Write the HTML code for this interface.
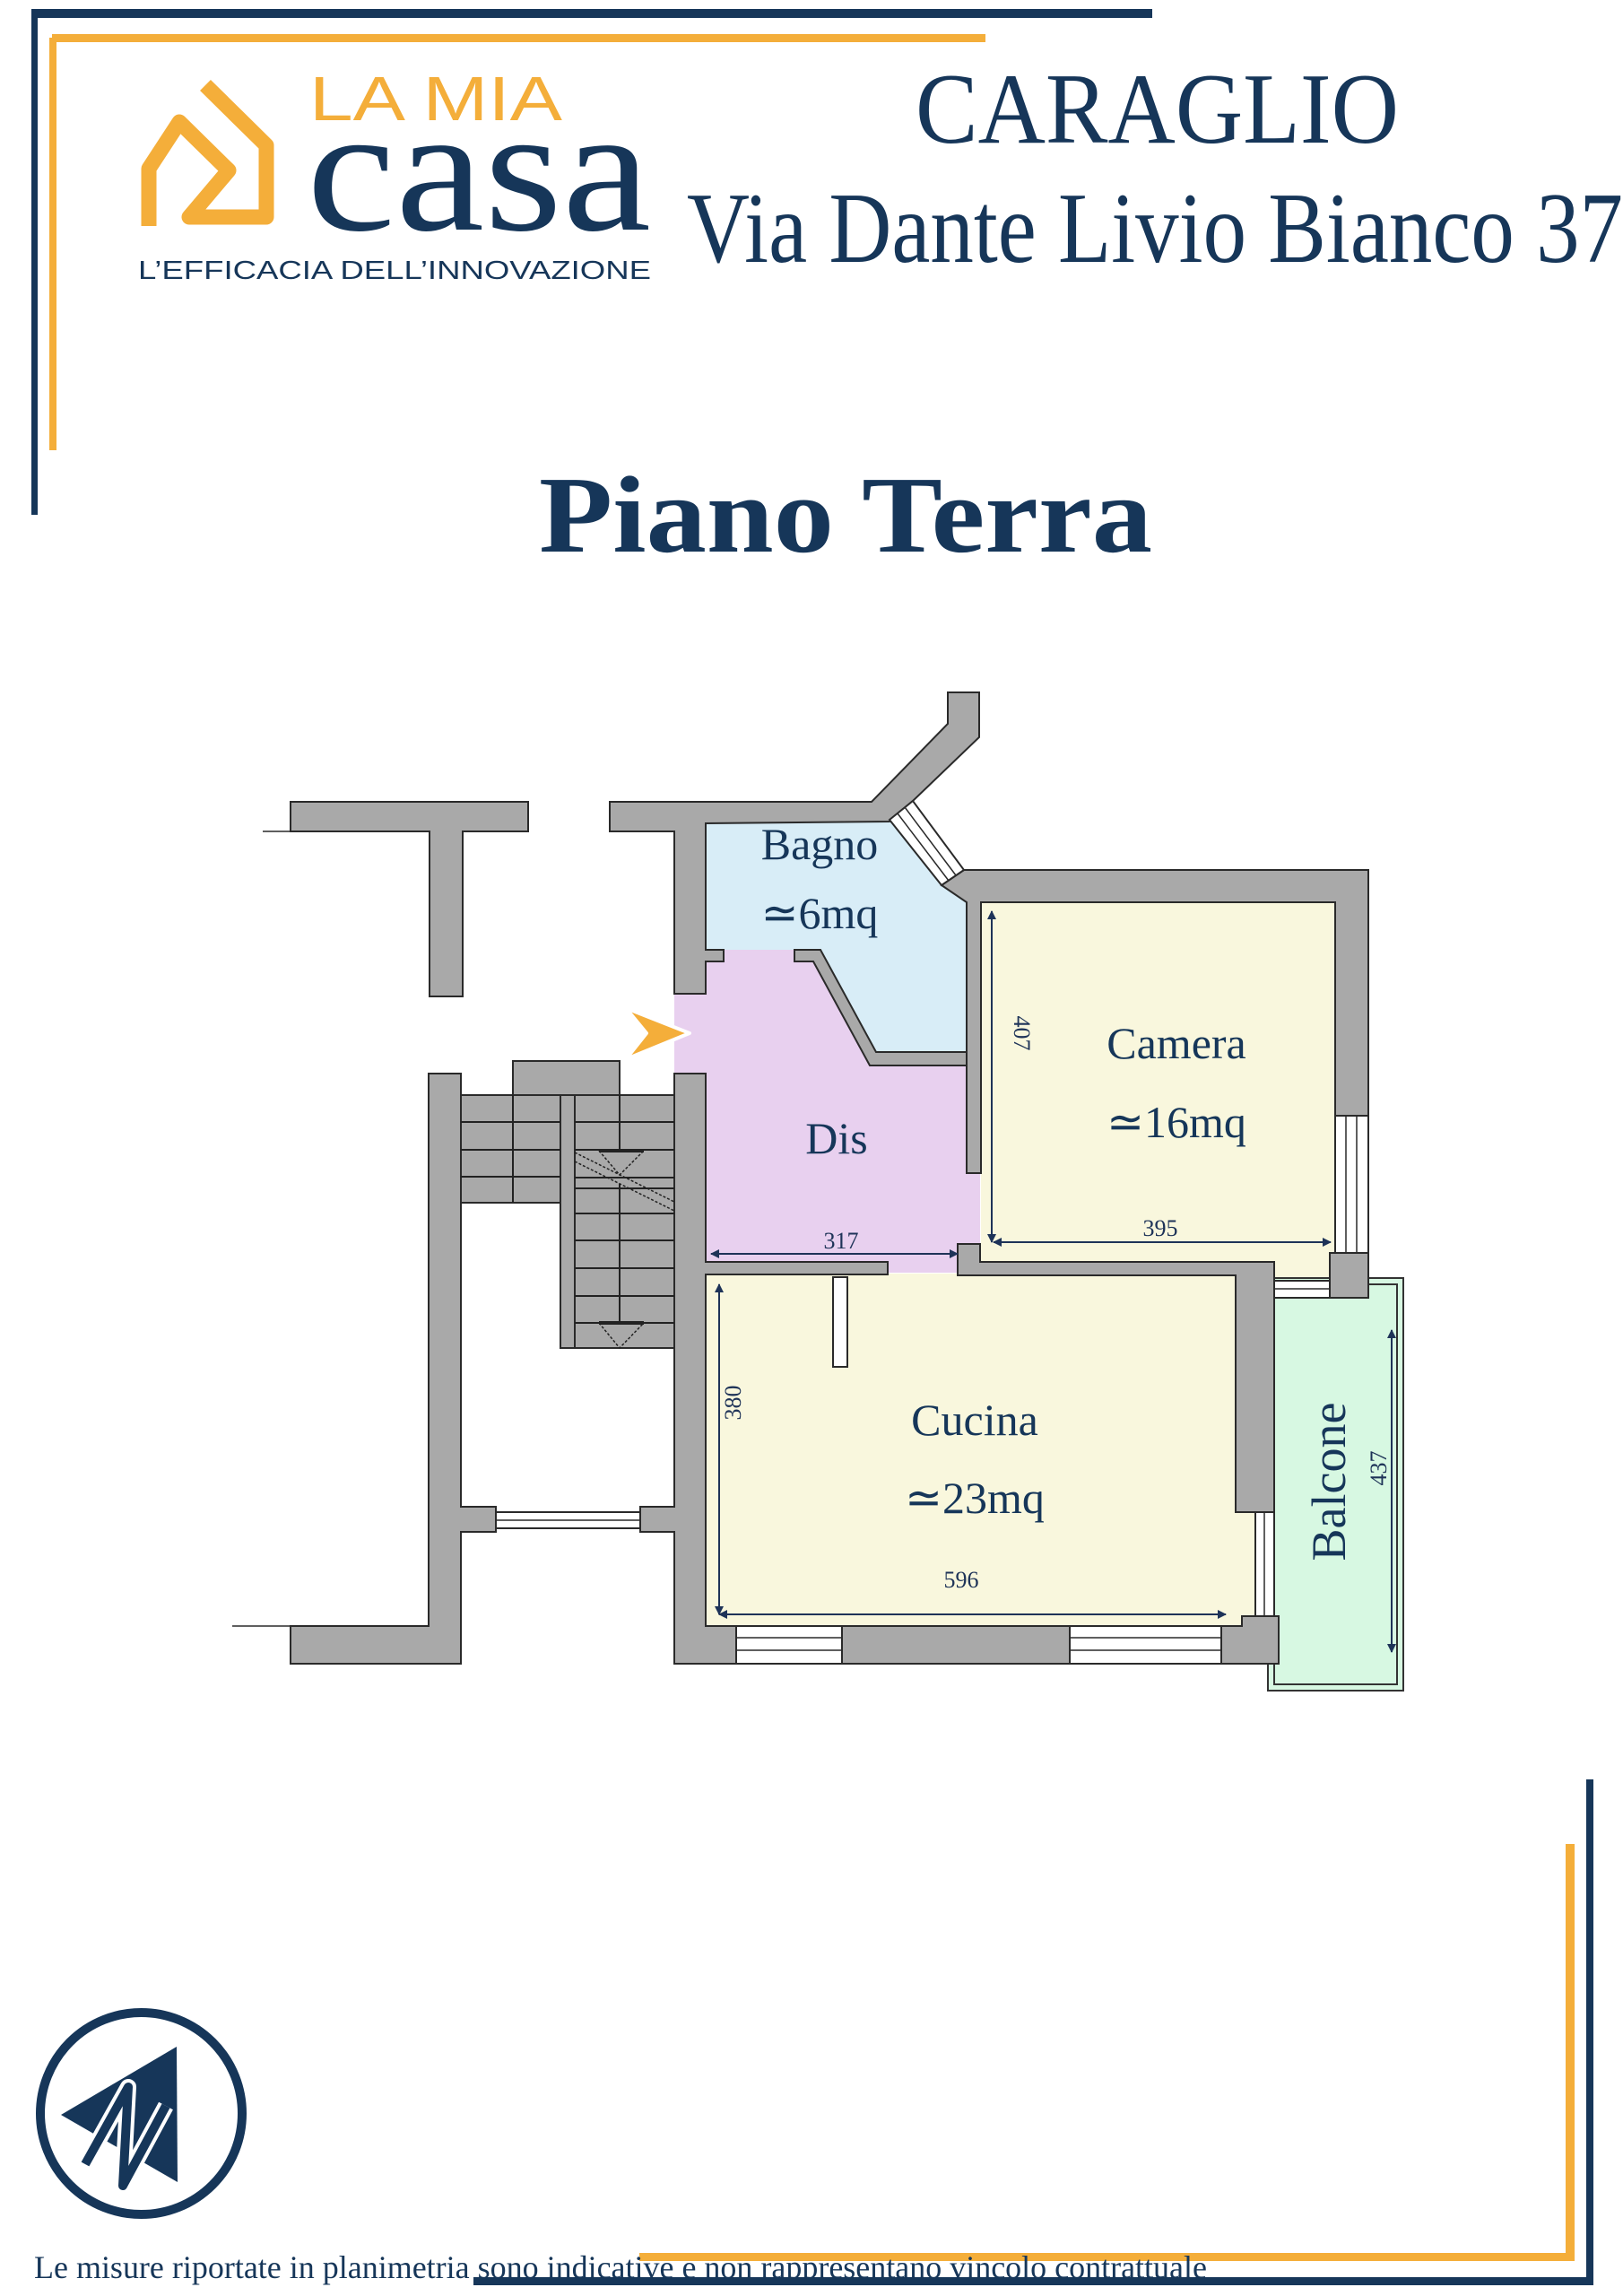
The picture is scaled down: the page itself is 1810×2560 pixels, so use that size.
<!DOCTYPE html>
<html><head><meta charset="utf-8"><style>
html,body{margin:0;padding:0;background:#fff;}
svg{display:block;}
</style></head><body>
<svg width="1810" height="2560" viewBox="0 0 1810 2560" xmlns="http://www.w3.org/2000/svg">
<defs>
<marker id="ah" viewBox="0 0 10 10" refX="9" refY="5" markerWidth="5" markerHeight="5" orient="auto-start-reverse"><path d="M0,0 L10,5 L0,10 z" fill="#1e3358"/></marker>
</defs>
<rect x="35" y="10" width="1250" height="10" fill="#163659"/>
<rect x="35" y="12" width="7" height="562" fill="#163659"/>
<rect x="58" y="38" width="1041" height="9" fill="#f4ae3a"/>
<rect x="55" y="42" width="8" height="460" fill="#f4ae3a"/>
<rect x="1769" y="1984" width="8" height="564" fill="#163659"/>
<rect x="528" y="2539" width="1249" height="9" fill="#163659"/>
<rect x="1746" y="2056" width="10" height="462" fill="#f4ae3a"/>
<rect x="713" y="2512" width="1043" height="9" fill="#f4ae3a"/>

<polyline points="166,252 166,188 200,136 255,190 211,242 297,242 297,162 229,95" fill="none" stroke="#f4ae3a" stroke-width="17" stroke-linejoin="round"/>
<text x="345" y="134" font-family="Liberation Sans, sans-serif" font-size="70" fill="#f4ae3a" textLength="282" lengthAdjust="spacingAndGlyphs">LA MIA</text>
<text x="342" y="256" font-family="Liberation Serif, serif" font-size="200" fill="#163659" textLength="384" lengthAdjust="spacingAndGlyphs">casa</text>
<text x="154" y="311" font-family="Liberation Sans, sans-serif" font-size="29" fill="#163659" textLength="572" lengthAdjust="spacingAndGlyphs">L’EFFICACIA DELL’INNOVAZIONE</text>

<text x="1021" y="159" font-family="Liberation Serif, serif" font-size="112" fill="#163659" textLength="539" lengthAdjust="spacingAndGlyphs">CARAGLIO</text>
<text x="766" y="292" font-family="Liberation Serif, serif" font-size="112" fill="#163659" textLength="1044" lengthAdjust="spacingAndGlyphs">Via Dante Livio Bianco 37</text>
<text x="601" y="615" font-family="Liberation Serif, serif" font-weight="bold" font-size="122" fill="#163659" textLength="684" lengthAdjust="spacingAndGlyphs">Piano Terra</text>

<rect x="752" y="1059" width="341" height="360" fill="#e8d0ef"/>
<polygon points="787,918 992,914 1050,987 1078,1006 1078,1173 977,1173 915,1059 787,1059" fill="#d8edf7"/>
<rect x="1094" y="1006" width="395" height="422" fill="#f9f7dd"/>
<rect x="787" y="1420" width="613" height="393" fill="#f9f7dd"/>
<rect x="1414" y="1425" width="151" height="460" fill="#d7f8e2" stroke="#333" stroke-width="2"/>
<rect x="1421" y="1432" width="137" height="446" fill="none" stroke="#333" stroke-width="2"/>

<g fill="#a9a9a9" stroke="#2a2a2a" stroke-width="2" stroke-linejoin="miter">
<polygon points="324,894 589,894 589,927 516,927 516,1111 479,1111 479,927 324,927"/>
<polygon points="680,894 972,894 1057,807 1057,772 1092,772 1092,822 1018,893 992,916 787,918 787,1059 807,1059 807,1072 787,1072 787,1108 752,1108 752,927 680,927"/>
<polygon points="1075,970 1526,970 1526,1244 1489,1244 1489,1006 1094,1006 1094,1308 1078,1308 1078,1006 1050,987"/>
<rect x="1483" y="1397" width="43" height="50"/>
<polygon points="886,1059 915,1059 977,1173 1078,1173 1078,1188 970,1188 907,1072 886,1072"/>
<polygon points="478,1197 514,1197 514,1680 553,1680 553,1708 514,1708 514,1855 324,1855 324,1813 478,1813"/>
<polygon points="752,1197 787,1197 787,1407 990,1407 990,1421 787,1421 787,1813 1385,1813 1385,1802 1426,1802 1426,1855 752,1855 752,1708 714,1708 714,1680 752,1680"/>
<polygon points="1068,1387 1093,1387 1093,1407 1421,1407 1421,1686 1378,1686 1378,1422 1068,1422"/>
<rect x="929" y="1424" width="16" height="100" fill="#fff"/>
<rect x="572" y="1183" width="119" height="38"/>
<rect x="514" y="1221" width="111" height="120"/>
<rect x="625" y="1221" width="16" height="282"/>
<rect x="641" y="1221" width="111" height="282"/>
</g>
<g stroke="#222" stroke-width="2">
<line x1="514" y1="1251" x2="625" y2="1251"/><line x1="514" y1="1282" x2="625" y2="1282"/><line x1="514" y1="1312" x2="625" y2="1312"/>
<line x1="572" y1="1221" x2="572" y2="1341"/>
<line x1="641" y1="1251" x2="752" y2="1251"/><line x1="641" y1="1282" x2="752" y2="1282"/><line x1="641" y1="1313" x2="752" y2="1313"/>
<line x1="641" y1="1325" x2="752" y2="1325"/><line x1="641" y1="1353" x2="752" y2="1353"/><line x1="641" y1="1383" x2="752" y2="1383"/>
<line x1="641" y1="1414" x2="752" y2="1414"/><line x1="641" y1="1445" x2="752" y2="1445"/><line x1="641" y1="1475" x2="752" y2="1475"/>
<line x1="691" y1="1221" x2="691" y2="1282"/><line x1="691" y1="1320" x2="691" y2="1475"/>
<line x1="668" y1="1283" x2="718" y2="1283" stroke-width="4"/><line x1="668" y1="1475" x2="718" y2="1475" stroke-width="4"/>
</g>
<g stroke="#222" stroke-width="1.5" stroke-dasharray="3,2" fill="none">
<polyline points="668,1283 691,1310 718,1283"/><polyline points="668,1475 691,1503 718,1475"/>
<line x1="641" y1="1285" x2="752" y2="1340"/><line x1="641" y1="1295" x2="752" y2="1350"/>
</g>
<g fill="#fff" stroke="#2a2a2a" stroke-width="2">
<polygon points="992,914 1018,893 1075,970 1050,987"/>
<rect x="1489" y="1244" width="37" height="153"/>
<rect x="1421" y="1428" width="62" height="19"/>
<rect x="1400" y="1686" width="21" height="116"/>
<rect x="821" y="1813" width="118" height="42"/>
<rect x="1193" y="1813" width="169" height="42"/>
<rect x="553" y="1686" width="161" height="18"/>
</g>
<g stroke="#2a2a2a" stroke-width="1.5">
<line x1="1001" y1="907" x2="1058" y2="982"/><line x1="1009" y1="900" x2="1066" y2="976"/>
<line x1="1501" y1="1244" x2="1501" y2="1397"/><line x1="1513" y1="1244" x2="1513" y2="1397"/>
<line x1="1421" y1="1437" x2="1483" y2="1437"/>
<line x1="1410" y1="1686" x2="1410" y2="1802"/>
<line x1="821" y1="1826" x2="939" y2="1826"/><line x1="821" y1="1840" x2="939" y2="1840"/>
<line x1="1193" y1="1826" x2="1362" y2="1826"/><line x1="1193" y1="1840" x2="1362" y2="1840"/>
<line x1="553" y1="1695" x2="714" y2="1695"/>
<line x1="293" y1="927" x2="324" y2="927"/><line x1="259" y1="1813" x2="324" y2="1813"/>
</g>
<polygon points="698,1124 769,1152 698,1181 721,1152" fill="#f4ae3a" stroke="#fff" stroke-width="4" stroke-linejoin="round"/>

<g stroke="#1e3358" stroke-width="2" marker-start="url(#ah)" marker-end="url(#ah)">
<line x1="793" y1="1398" x2="1068" y2="1398"/>
<line x1="1108" y1="1385" x2="1484" y2="1385"/>
<line x1="1106" y1="1016" x2="1106" y2="1385"/>
<line x1="802" y1="1432" x2="802" y2="1800"/>
<line x1="802" y1="1800" x2="1367" y2="1800"/>
<line x1="1552" y1="1483" x2="1552" y2="1842"/>
</g>
<g font-family="Liberation Serif, serif" fill="#1e3358" font-size="26" text-anchor="middle">
<text x="938" y="1392">317</text>
<text x="1294" y="1378">395</text>
<text x="1072" y="1770">596</text>
<text transform="translate(1131,1152) rotate(90)">407</text>
<text transform="translate(826,1564) rotate(-90)">380</text>
<text transform="translate(1546,1637) rotate(-90)">437</text>
</g>
<g font-family="Liberation Serif, serif" fill="#163659" font-size="50" text-anchor="middle">
<text x="914" y="958">Bagno</text>
<text x="914" y="1035">≃6mq</text>
<text x="933" y="1286">Dis</text>
<text x="1312" y="1180">Camera</text>
<text x="1312" y="1268">≃16mq</text>
<text x="1087" y="1600">Cucina</text>
<text x="1087" y="1687">≃23mq</text>
<text transform="translate(1500,1652) rotate(-90)" font-size="54">Balcone</text>
</g>

<circle cx="157.5" cy="2356.5" r="112.5" fill="none" stroke="#163659" stroke-width="10"/>
<polygon points="68,2358 197,2282 198,2433" fill="#163659"/>
<polyline points="95,2413 143,2327 137,2437 185,2348" fill="none" stroke="#fff" stroke-width="18" stroke-linejoin="round"/>
<polyline points="95,2413 143,2327 137,2437 185,2348" fill="none" stroke="#163659" stroke-width="10" stroke-linejoin="round"/>

<text x="38" y="2540" font-family="Liberation Serif, serif" font-size="36" fill="#163659" textLength="1308" lengthAdjust="spacingAndGlyphs">Le misure riportate in planimetria sono indicative e non rappresentano vincolo contrattuale</text>
</svg>
</body></html>
